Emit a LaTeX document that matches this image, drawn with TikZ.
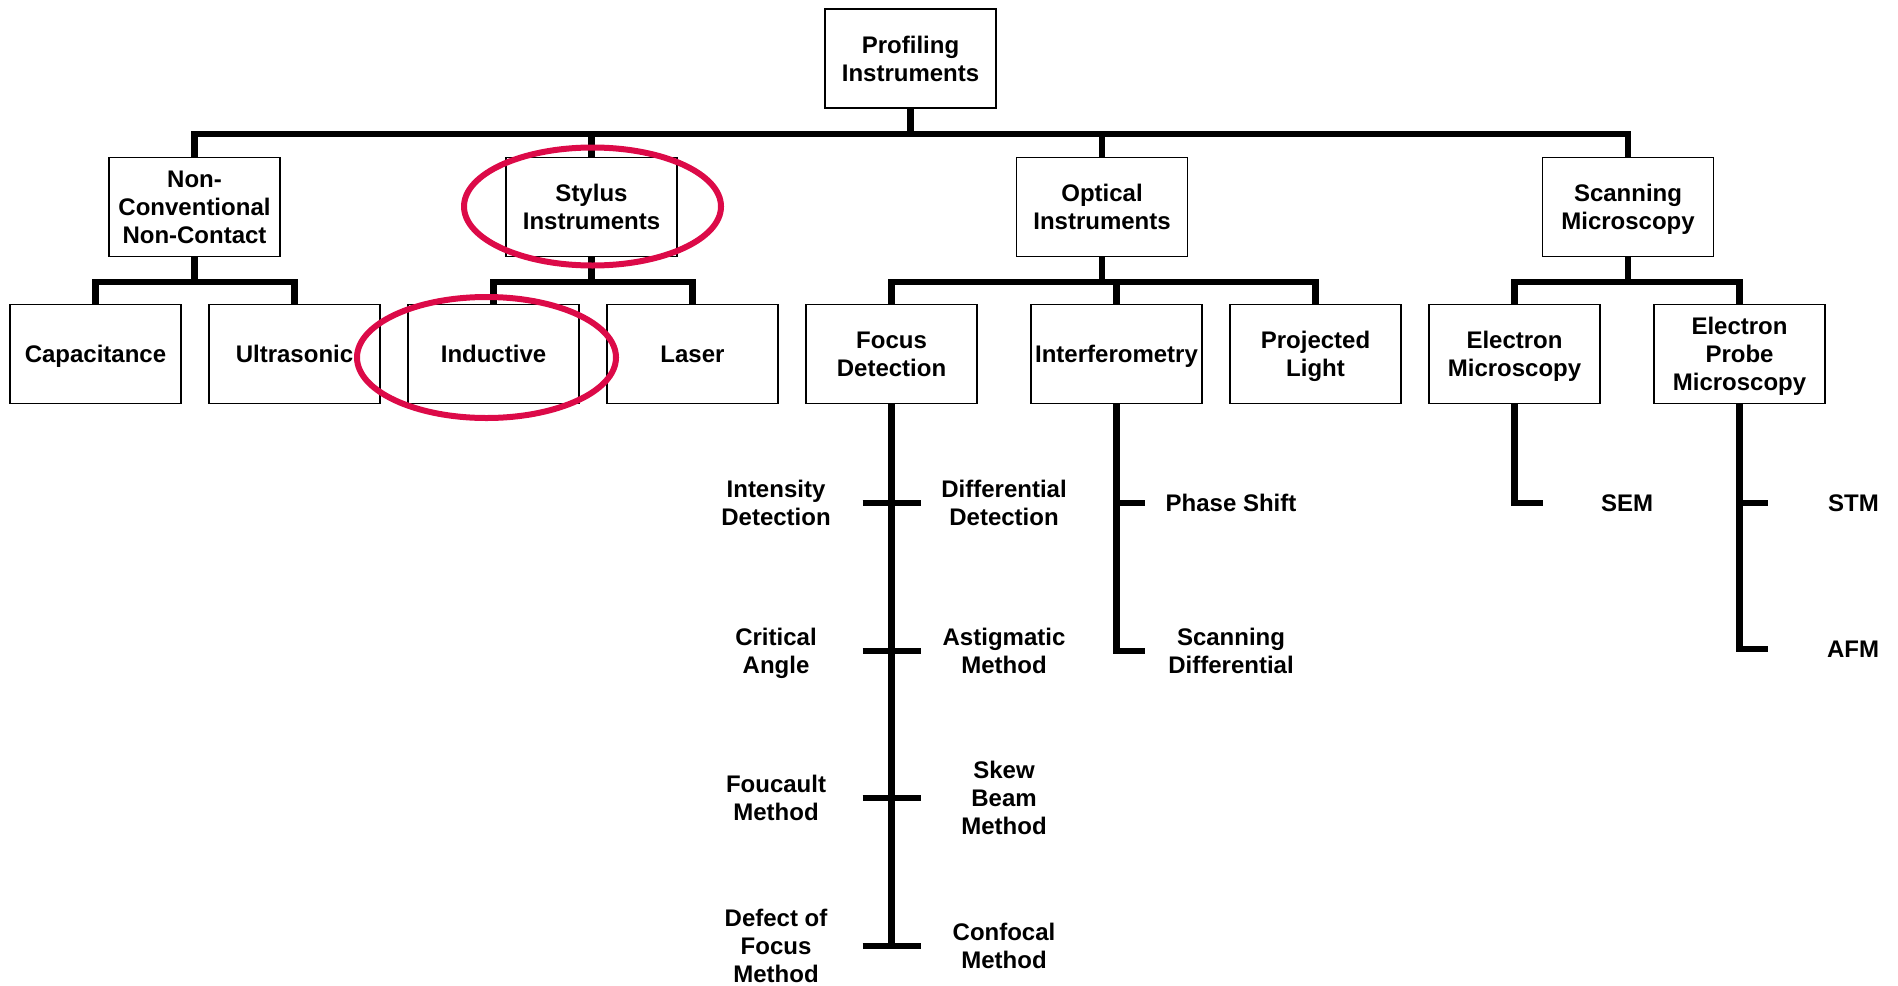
\documentclass[tikz,border=0pt]{standalone}
\usepackage{fontspec}
\setmainfont{Liberation Sans}
\usetikzlibrary{positioning}
\definecolor{ringred}{RGB}{220,10,72}

\begin{document}
\begin{tikzpicture}[x=0.5pt,y=-0.5pt,node distance=99.5pt,
                    font=\bfseries\fontsize{12}{14}\selectfont]

  \tikzstyle{box}=[rectangle,draw,line width=0.7pt,minimum width=85.5pt,
                   minimum height=49.5pt,inner sep=1pt,align=center,
                   text depth=-1pt]
  \tikzstyle{leaf}=[inner sep=0pt,align=center,text depth=0pt]
  \tikzstyle{conn}=[line width=3.2pt]
  \tikzstyle{ring}=[draw=ringred,line width=3pt]

  \useasboundingbox (0,0) rectangle (1898,985);

  \node[box] (PRF) at (910.5,58.5) {Profiling \\ Instruments};

  \node[box] (NCN) at (194.5,207)  {Non- \\ Conventional \\ Non-Contact};
  \node[box] (STY) at (591.5,207)  {Stylus \\ Instruments};
  \node[box] (OPT) at (1102,207)   {Optical \\ Instruments};
  \node[box] (SCM) at (1628,207)   {Scanning \\ Microscopy};

  \node[box] (CAP) at (95.5,354)               {Capacitance};
  \node[box] (ULT) [right of=CAP]              {Ultrasonic};
  \node[box] (IND) [right of=ULT]              {Inductive};
  \node[box] (LAS) [right of=IND]              {Laser};
  \node[box] (FOC) [right of=LAS]              {Focus \\ Detection};
  \node[box] (INT) [right of=FOC,xshift=13pt]  {Interferometry};
  \node[box] (PRJ) [right of=INT]              {Projected \\ Light};
  \node[box] (ELM) [right of=PRJ]              {Electron \\ Microscopy};
  \node[box] (EPM) [right of=ELM,xshift=13pt]  {Electron \\ Probe \\ Microscopy};

  \node[leaf] (IDT) at (776,503)   {Intensity \\ Detection};
  \node[leaf] (DDT) at (1004,503)  {Differential \\ Detection};
  \node[leaf] (CRA) at (776,651)   {Critical \\ Angle};
  \node[leaf] (ASM) at (1004,651)  {Astigmatic \\ Method};
  \node[leaf] (FCM) at (776,798)   {Foucault \\ Method};
  \node[leaf] (SBM) at (1004,798)  {Skew \\ Beam \\ Method};
  \node[leaf] (DFM) at (776,946)   {Defect of \\ Focus \\ Method};
  \node[leaf] (CFM) at (1004,946)  {Confocal \\ Method};

  \node[leaf] (PHS) at (1231,503)  {Phase Shift};
  \node[leaf] (SCD) at (1231,651)  {Scanning \\ Differential};
  \node[leaf] (SEM) at (1627,503)  {SEM};
  \node[leaf] (STM) at (1853.5,503) {STM};
  \node[leaf] (AFM) at (1853,649)  {AFM};

  \draw[conn] (PRF.south) -- ++(0,25) -| (NCN.north);
  \draw[conn] (PRF.south) -- ++(0,25) -| (STY.north);
  \draw[conn] (PRF.south) -- ++(0,25) -| (OPT.north);
  \draw[conn] (PRF.south) -- ++(0,25) -| (SCM.north);

  \draw[conn] (NCN.south) -- ++(0,25) -| (CAP.north);
  \draw[conn] (NCN.south) -- ++(0,25) -| (ULT.north);
  \draw[conn] (STY.south) -- ++(0,25) -| (IND.north);
  \draw[conn] (STY.south) -- ++(0,25) -| (LAS.north);
  \draw[conn] (OPT.south) -- ++(0,25) -| (FOC.north);
  \draw[conn] (OPT.south) -- ++(0,25) -| (INT.north);
  \draw[conn] (OPT.south) -- ++(0,25) -| (PRJ.north);
  \draw[conn] (SCM.south) -- ++(0,25) -| (ELM.north);
  \draw[conn] (SCM.south) -- ++(0,25) -| (EPM.north);

  \draw[conn] (FOC.south) -- (FOC.south |- DFM);
  \draw[conn] (FOC.south |- IDT) +(-29,0) -- +(29,0);
  \draw[conn] (FOC.south |- CRA) +(-29,0) -- +(29,0);
  \draw[conn] (FOC.south |- FCM) +(-29,0) -- +(29,0);
  \draw[conn] (FOC.south |- DFM) +(-29,0) -- +(29,0);

  \draw[conn] (INT.south) -- (INT.south |- SCD) -- ++(28,0);
  \draw[conn] (INT.south |- PHS) -- ++(28,0);

  \draw[conn] (ELM.south) -- (ELM.south |- SEM) -- ++(28,0);

  \draw[conn] (EPM.south) -- (EPM.south |- AFM) -- ++(28,0);
  \draw[conn] (EPM.south |- STM) -- ++(28,0);

  \draw[ring] (592.5,206.5) ellipse [x radius=64.25pt,y radius=29.5pt];
  \draw[ring] (486.5,357.5) ellipse [x radius=64.75pt,y radius=30.25pt];
\end{tikzpicture}
\end{document}
